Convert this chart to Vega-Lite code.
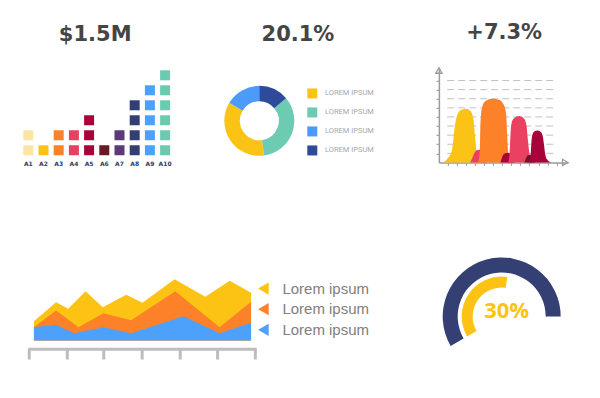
{
  "$schema": "https://vega.github.io/schema/vega-lite/v6.json",
  "background": "white",
  "padding": {"left": 20.7, "top": 20.8, "right": 0, "bottom": 0},
  "spacing": 82.7,
  "resolve": {"scale": {"color": "independent", "theta": "independent"}, "legend": {"color": "independent"}},
  "datasets": {
    "dens": [
      {"c": "y", "x": 0.37, "y": 0}, {"c": "y", "x": 1.11, "y": 0.62}, {"c": "y", "x": 1.48, "y": 1.54}, {"c": "y", "x": 1.73, "y": 3.74}, {"c": "y", "x": 2.03, "y": 5.2}, {"c": "y", "x": 2.47, "y": 5.8}, {"c": "y", "x": 3.06, "y": 5.91}, {"c": "y", "x": 3.5, "y": 5.64}, {"c": "y", "x": 3.8, "y": 4.84}, {"c": "y", "x": 3.98, "y": 3.0}, {"c": "y", "x": 4.16, "y": 1.16}, {"c": "y", "x": 4.43, "y": 0.44}, {"c": "y", "x": 4.79, "y": 0},
      {"c": "pt", "x": 3.45, "y": 0}, {"c": "pt", "x": 3.7, "y": 0.5}, {"c": "pt", "x": 3.95, "y": 1.1}, {"c": "pt", "x": 4.2, "y": 1.35}, {"c": "pt", "x": 4.6, "y": 1.4}, {"c": "pt", "x": 5.0, "y": 1.0}, {"c": "pt", "x": 5.3, "y": 0},
      {"c": "o", "x": 4.29, "y": 0}, {"c": "o", "x": 4.43, "y": 0.44}, {"c": "o", "x": 4.54, "y": 1.9}, {"c": "o", "x": 4.6, "y": 4.46}, {"c": "o", "x": 4.79, "y": 6.11}, {"c": "o", "x": 5.15, "y": 6.74}, {"c": "o", "x": 5.9, "y": 7.01}, {"c": "o", "x": 6.64, "y": 6.9}, {"c": "o", "x": 7.19, "y": 6.3}, {"c": "o", "x": 7.44, "y": 5.2}, {"c": "o", "x": 7.55, "y": 3.0}, {"c": "o", "x": 7.66, "y": 1.16}, {"c": "o", "x": 7.85, "y": 0.25}, {"c": "o", "x": 7.99, "y": 0},
      {"c": "ct", "x": 6.8, "y": 0}, {"c": "ct", "x": 6.95, "y": 0.45}, {"c": "ct", "x": 7.15, "y": 0.9}, {"c": "ct", "x": 7.5, "y": 1.05}, {"c": "ct", "x": 7.9, "y": 1.0}, {"c": "ct", "x": 8.2, "y": 0.5}, {"c": "ct", "x": 8.4, "y": 0},
      {"c": "p", "x": 7.66, "y": 0}, {"c": "p", "x": 7.8, "y": 0.8}, {"c": "p", "x": 7.88, "y": 2.45}, {"c": "p", "x": 7.99, "y": 4.1}, {"c": "p", "x": 8.22, "y": 4.76}, {"c": "p", "x": 8.85, "y": 5.09}, {"c": "p", "x": 9.4, "y": 4.84}, {"c": "p", "x": 9.69, "y": 3.99}, {"c": "p", "x": 9.84, "y": 2.45}, {"c": "p", "x": 9.98, "y": 1.13}, {"c": "p", "x": 10.15, "y": 0.42}, {"c": "p", "x": 10.43, "y": 0},
      {"c": "mt", "x": 9.45, "y": 0}, {"c": "mt", "x": 9.6, "y": 0.4}, {"c": "mt", "x": 9.8, "y": 0.75}, {"c": "mt", "x": 10.1, "y": 0.85}, {"c": "mt", "x": 10.4, "y": 0.6}, {"c": "mt", "x": 10.6, "y": 0},
      {"c": "c", "x": 9.93, "y": 0}, {"c": "c", "x": 10.13, "y": 0.8}, {"c": "c", "x": 10.24, "y": 2.45}, {"c": "c", "x": 10.37, "y": 3.16}, {"c": "c", "x": 10.59, "y": 3.44}, {"c": "c", "x": 10.87, "y": 3.52}, {"c": "c", "x": 11.23, "y": 3.36}, {"c": "c", "x": 11.48, "y": 2.89}, {"c": "c", "x": 11.62, "y": 1.9}, {"c": "c", "x": 11.75, "y": 0.91}, {"c": "c", "x": 11.97, "y": 0.31}, {"c": "c", "x": 12.36, "y": 0}
    ],
    "areas": [
      {"s": "s1", "x": 0, "y": 19.3}, {"s": "s1", "x": 10.2, "y": 38.3}, {"s": "s1", "x": 15.8, "y": 31.7}, {"s": "s1", "x": 23.8, "y": 49.3}, {"s": "s1", "x": 31.7, "y": 33.3}, {"s": "s1", "x": 42.5, "y": 45.7}, {"s": "s1", "x": 50, "y": 37.7}, {"s": "s1", "x": 64.8, "y": 61.3}, {"s": "s1", "x": 78.9, "y": 43.7}, {"s": "s1", "x": 90.2, "y": 59.7}, {"s": "s1", "x": 100, "y": 47.7},
      {"s": "s2", "x": 0, "y": 13.3}, {"s": "s2", "x": 10.2, "y": 30}, {"s": "s2", "x": 20.5, "y": 13.3}, {"s": "s2", "x": 32, "y": 27.3}, {"s": "s2", "x": 44.8, "y": 20.3}, {"s": "s2", "x": 65.1, "y": 49.3}, {"s": "s2", "x": 85.5, "y": 13.3}, {"s": "s2", "x": 100, "y": 38.7},
      {"s": "s3", "x": 0, "y": 13.3}, {"s": "s3", "x": 10.2, "y": 15.7}, {"s": "s3", "x": 18.5, "y": 7.3}, {"s": "s3", "x": 32, "y": 13.3}, {"s": "s3", "x": 44.8, "y": 7.3}, {"s": "s3", "x": 68.9, "y": 24.3}, {"s": "s3", "x": 85.5, "y": 7.3}, {"s": "s3", "x": 100, "y": 17.7}
    ],
    "rulerTicks": [{"t": -2.17}, {"t": 15.37}, {"t": 32.16}, {"t": 49.84}, {"t": 67.37}, {"t": 84.59}, {"t": 101.98}],
    "gridLines": [{"g": 1},{"g": 2},{"g": 3},{"g": 4},{"g": 5},{"g": 6},{"g": 7},{"g": 8},{"g": 9}]
  },
  "vconcat": [
    {
      "spacing": 51.6,
      "resolve": {"scale": {"color": "independent"}, "legend": {"color": "independent"}},
      "hconcat": [
        {
          "width": 152,
          "height": 89.94,
          "title": {"text": "$1.5M", "offset": 22.4, "dx": -1.5},
          "data": {"values": [
            {"col": "A1", "row": 1}, {"col": "A1", "row": 2},
            {"col": "A2", "row": 1},
            {"col": "A3", "row": 1}, {"col": "A3", "row": 2},
            {"col": "A4", "row": 1}, {"col": "A4", "row": 2},
            {"col": "A5", "row": 1}, {"col": "A5", "row": 2}, {"col": "A5", "row": 3},
            {"col": "A6", "row": 1},
            {"col": "A7", "row": 1}, {"col": "A7", "row": 2},
            {"col": "A8", "row": 1}, {"col": "A8", "row": 2}, {"col": "A8", "row": 3}, {"col": "A8", "row": 4},
            {"col": "A9", "row": 1}, {"col": "A9", "row": 2}, {"col": "A9", "row": 3}, {"col": "A9", "row": 4}, {"col": "A9", "row": 5},
            {"col": "A10", "row": 1}, {"col": "A10", "row": 2}, {"col": "A10", "row": 3}, {"col": "A10", "row": 4}, {"col": "A10", "row": 5}, {"col": "A10", "row": 6}
          ]},
          "mark": {"type": "square", "size": 100, "opacity": 1, "filled": true},
          "encoding": {
            "x": {"field": "col", "type": "ordinal", "sort": ["A1","A2","A3","A4","A5","A6","A7","A8","A9","A10"],
                  "scale": {"type": "band", "paddingInner": 0, "paddingOuter": 0},
                  "axis": {"title": null, "domain": false, "ticks": false, "labelAngle": 0, "labelPadding": 3, "labelFontSize": 6, "labelFont": "DejaVu Sans", "labelFontWeight": "bold", "labelColor": "#2f3a60"}},
            "y": {"field": "row", "type": "ordinal", "sort": "descending", "scale": {"type": "band", "paddingInner": 0, "paddingOuter": 0}, "axis": null},
            "color": {"field": "col", "type": "nominal", "legend": null,
                      "scale": {"domain": ["A1","A2","A3","A4","A5","A6","A7","A8","A9","A10"],
                                "range": ["#fce4a5","#fcc314","#fd8127","#ea405f","#a9023a","#6a1a23","#5a3a79","#333f74","#4da0fb","#6ccab0"]}}
          }
        },
        {
          "width": 70,
          "height": 106.1,
          "title": {"text": "20.1%", "offset": 22.4, "dx": 38.7},
          "data": {"values": [
            {"k": "a", "v": 35.8, "o": 3},
            {"k": "b", "v": 33.9, "o": 2},
            {"k": "c", "v": 16.4, "o": 4},
            {"k": "d", "v": 13.9, "o": 1}
          ]},
          "mark": {"type": "arc", "radius": 35, "radius2": 19.5},
          "encoding": {
            "theta": {"field": "v", "type": "quantitative", "stack": true},
            "order": {"field": "o", "type": "quantitative"},
            "color": {"field": "k", "type": "nominal",
                      "scale": {"domain": ["a","b","c","d"], "range": ["#fbc316","#6ccbb2","#4c9bf8","#2f4a9a"]},
                      "legend": {"title": null, "orient": "none", "legendX": 77.2, "legendY": 14.84, "padding": 5.8, "symbolType": "square", "symbolSize": 100, "symbolStrokeWidth": 0, "symbolOpacity": 1,
                                 "labelExpr": "'LOREM IPSUM'", "labelFont": "Roboto", "labelFontSize": 7.5, "labelColor": "#a8a8a8", "labelOffset": 7.7, "rowPadding": 9}}
          }
        },
        {
          "width": 129.05,
          "height": 94.64,
          "title": {"text": "+7.3%", "offset": 22.4, "dx": 0.8},
          "layer": [
            {
              "data": {"name": "gridLines"},
              "mark": {"type": "rule", "color": "#c2c2c2", "strokeWidth": 1, "strokeDash": [7, 4]},
              "encoding": {
                "x": {"datum": 0.92, "type": "quantitative", "scale": {"domain": [0, 14.26], "nice": false, "zero": false},
                      "axis": {"title": null, "values": [1,2,3,4,5,6,7,8,9,10,11,12,13], "labels": false, "grid": false, "tickSize": 3, "tickWidth": 1, "tickColor": "#9b9b9b", "domain": true, "domainColor": "#9b9b9b", "domainWidth": 1.5}},
                "x2": {"datum": 12.97},
                "y": {"field": "g", "type": "quantitative", "scale": {"domain": [0, 10.4], "nice": false, "zero": false},
                      "axis": {"title": null, "values": [1,2,3,4,5,6,7,8,9], "labels": false, "grid": false, "tickSize": 3, "tickWidth": 1, "tickColor": "#9b9b9b", "domain": true, "domainColor": "#9b9b9b", "domainWidth": 1.5}}
              }
            },
            {
              "data": {"name": "dens"},
              "encoding": {
                "x": {"field": "x", "type": "quantitative", "scale": {"domain": [0, 14.26], "nice": false, "zero": false},
                      "axis": {"title": null, "values": [1,2,3,4,5,6,7,8,9,10,11,12,13], "labels": false, "grid": false, "tickSize": 3, "tickWidth": 1, "tickColor": "#9b9b9b", "domain": true, "domainColor": "#9b9b9b", "domainWidth": 1.5}},
                "y": {"field": "y", "type": "quantitative", "stack": null, "scale": {"domain": [0, 10.4], "nice": false, "zero": false},
                      "axis": {"title": null, "values": [1,2,3,4,5,6,7,8,9], "labels": false, "grid": false, "tickSize": 3, "tickWidth": 1, "tickColor": "#9b9b9b", "domain": true, "domainColor": "#9b9b9b", "domainWidth": 1.5}},
                "color": {"field": "c", "type": "nominal", "legend": null, "scale": {"domain": ["y","pt","o","ct","p","mt","c"], "range": ["#fbc316","#e9415f","#fd8128","#a8023a","#e9415f","#6e1628","#a8023a"]}}
              },
              "layer": [
                {"transform": [{"filter": "datum.c === 'y'"}], "mark": {"type": "area", "interpolate": "monotone"}},
                {"transform": [{"filter": "datum.c === 'pt'"}], "mark": {"type": "area", "interpolate": "monotone"}},
                {"transform": [{"filter": "datum.c === 'o'"}], "mark": {"type": "area", "interpolate": "monotone"}},
                {"transform": [{"filter": "datum.c === 'ct'"}], "mark": {"type": "area", "interpolate": "monotone"}},
                {"transform": [{"filter": "datum.c === 'p'"}], "mark": {"type": "area", "interpolate": "monotone"}},
                {"transform": [{"filter": "datum.c === 'mt'"}], "mark": {"type": "area", "interpolate": "monotone"}},
                {"transform": [{"filter": "datum.c === 'c'"}], "mark": {"type": "area", "interpolate": "monotone"}}
              ]
            },
            {
              "data": {"values": [{"x": 0, "y": 10.1, "m": "up"}, {"x": 13.96, "y": 0, "m": "right"}]},
              "encoding": {
                "x": {"field": "x", "type": "quantitative", "scale": {"domain": [0, 14.26], "nice": false, "zero": false},
                      "axis": {"title": null, "values": [1,2,3,4,5,6,7,8,9,10,11,12,13], "labels": false, "grid": false, "tickSize": 3, "tickWidth": 1, "tickColor": "#9b9b9b", "domain": true, "domainColor": "#9b9b9b", "domainWidth": 1.5}},
                "y": {"field": "y", "type": "quantitative", "scale": {"domain": [0, 10.4], "nice": false, "zero": false},
                      "axis": {"title": null, "values": [1,2,3,4,5,6,7,8,9], "labels": false, "grid": false, "tickSize": 3, "tickWidth": 1, "tickColor": "#9b9b9b", "domain": true, "domainColor": "#9b9b9b", "domainWidth": 1.5}}
              },
              "layer": [
                {"transform": [{"filter": "datum.m === 'up'"}], "mark": {"type": "point", "shape": "triangle-up", "size": 40, "filled": false, "color": "#9b9b9b", "strokeWidth": 1.3, "opacity": 1}},
                {"transform": [{"filter": "datum.m === 'right'"}], "mark": {"type": "point", "shape": "triangle-right", "size": 40, "filled": false, "color": "#9b9b9b", "strokeWidth": 1.3, "opacity": 1}}
              ]
            }
          ]
        }
      ]
    },
    {
      "spacing": 72,
      "resolve": {"scale": {"color": "independent", "theta": "independent"}, "legend": {"color": "independent"}},
      "hconcat": [
        {
          "width": 236,
          "height": 102,
          "layer": [
            {
              "data": {"name": "areas"},
              "encoding": {
                "x": {"field": "x", "type": "quantitative", "scale": {"domain": [-6.1, 102.6], "nice": false, "zero": false}, "axis": null},
                "y": {"field": "y", "type": "quantitative", "stack": null, "scale": {"domain": [-19, 83], "nice": false, "zero": false}, "axis": null},
                "color": {"field": "s", "type": "nominal",
                          "scale": {"domain": ["s1","s2","s3"], "range": ["#fcc314","#fd8128","#4ea1fb"]},
                          "legend": {"title": null, "orient": "none", "legendX": 235.2, "legendY": 23.6, "padding": 0,
                                     "symbolType": "triangle-left", "symbolSize": 150, "symbolStrokeWidth": 0, "symbolOpacity": 1,
                                     "labelExpr": "'Lorem ipsum'", "labelFont": "Liberation Sans", "labelFontSize": 15, "labelColor": "#808080", "labelOffset": 11.5, "rowPadding": 4.6}}
              },
              "layer": [
                {"transform": [{"filter": "datum.s === 's1'"}], "mark": {"type": "area", "opacity": 1}},
                {"transform": [{"filter": "datum.s === 's2'"}], "mark": {"type": "area", "opacity": 1}},
                {"transform": [{"filter": "datum.s === 's3'"}], "mark": {"type": "area", "opacity": 1}}
              ]
            },
            {
              "data": {"values": [{"a": -2.6, "b": 102.6}]},
              "mark": {"type": "rule", "color": "#bdbdbd", "strokeWidth": 3},
              "encoding": {
                "x": {"field": "a", "type": "quantitative"},
                "x2": {"field": "b"},
                "y": {"datum": -8.7, "type": "quantitative"}
              }
            },
            {
              "data": {"name": "rulerTicks"},
              "mark": {"type": "rule", "color": "#bdbdbd", "strokeWidth": 3},
              "encoding": {
                "x": {"field": "t", "type": "quantitative"},
                "y": {"datum": -8.7, "type": "quantitative"},
                "y2": {"datum": -19}
              }
            }
          ]
        },
        {
          "width": 118,
          "height": 118,
          "layer": [
            {
              "data": {"values": [{"a0": 240, "a1": 450}]},
              "mark": {"type": "arc", "radius": 59, "radius2": 44, "color": "#343f74"},
              "encoding": {
                "theta": {"field": "a0", "type": "quantitative", "stack": null, "scale": {"domain": [0, 360], "range": [0, 6.283185]}},
                "theta2": {"field": "a1"}
              }
            },
            {
              "data": {"values": [{"a0": 240, "a1": 368}]},
              "mark": {"type": "arc", "radius": 40, "radius2": 29, "color": "#fcc314"},
              "encoding": {
                "theta": {"field": "a0", "type": "quantitative", "stack": null, "scale": {"domain": [0, 360], "range": [0, 6.283185]}},
                "theta2": {"field": "a1"}
              }
            },
            {
              "data": {"values": [{"t": "30%"}]},
              "mark": {"type": "text", "font": "Open Sans", "fontWeight": "bold", "fontSize": 22, "color": "#fcc314", "dx": 5, "dy": -5},
              "encoding": {"text": {"field": "t", "type": "nominal"}}
            }
          ]
        }
      ]
    }
  ],
  "config": {
    "view": {"stroke": null},
    "title": {"font": "DejaVu Sans", "fontSize": 21, "fontWeight": "bold", "color": "#454545", "anchor": "middle", "baseline": "alphabetic", "frame": "group"}
  }
}
